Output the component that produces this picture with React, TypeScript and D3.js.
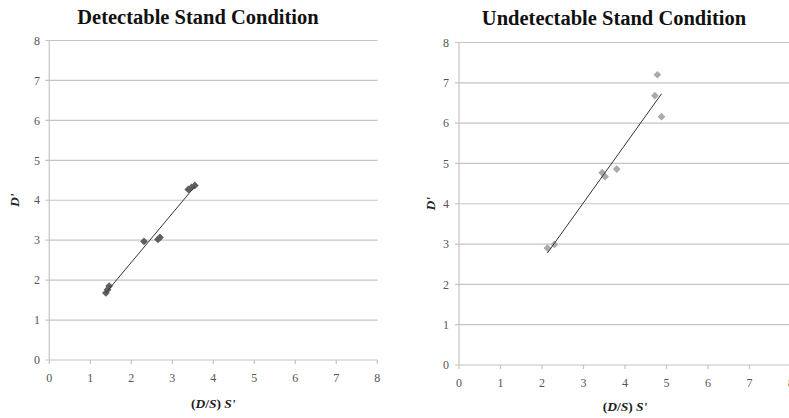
import React from "react";
import * as d3 from "d3";

const detectX = [1.38, 1.42, 1.46, 2.31, 2.65, 2.7, 3.39, 3.47, 3.55];
const detectY = [1.68, 1.76, 1.85, 2.97, 3.02, 3.07, 4.27, 4.32, 4.37];
const undetectX = [2.13, 2.3, 3.45, 3.52, 3.8, 4.72, 4.78, 4.88];
const undetectY = [2.9, 2.99, 4.77, 4.67, 4.86, 6.68, 7.2, 6.16];
const ticks = [0, 1, 2, 3, 4, 5, 6, 7, 8];
const titles = ["Detectable Stand Condition", "Undetectable Stand Condition"];

type PanelProps = {
  xs: number[];
  ys: number[];
  title: string;
  x0: number;
  x8: number;
  y0: number;
  y8: number;
  gridRight: number;
  color: string;
  titleX: number;
  titleY: number;
  yLabelX: number;
  dLabelX: number;
  xLabelY: number;
  xTitleY: number;
};

function regression(xs: number[], ys: number[]) {
  const mx = d3.mean(xs)!;
  const my = d3.mean(ys)!;
  let num = 0, den = 0;
  xs.forEach((x, i) => {
    num += (x - mx) * (ys[i] - my);
    den += (x - mx) * (x - mx);
  });
  const b = num / den;
  const a = my - b * mx;
  return (x: number) => a + b * x;
}

function Panel(p: PanelProps) {
  const x = d3.scaleLinear().domain([0, 8]).range([p.x0, p.x8]);
  const y = d3.scaleLinear().domain([0, 8]).range([p.y0, p.y8]);
  const f = regression(p.xs, p.ys);
  const [xmin, xmax] = d3.extent(p.xs) as [number, number];
  const diamond = d3.symbol().type(d3.symbolSquare).size(30)()!;
  const serif = "'Liberation Serif', 'DejaVu Serif', serif";
  return (
    <g>
      <text x={p.titleX} y={p.titleY} textAnchor="middle" fontFamily={serif} fontWeight="bold" fontSize={20.5} fill="#111">
        {p.title}
      </text>
      {ticks.map((t) => (
        <line key={"g" + t} x1={p.x0 - 4} x2={p.gridRight} y1={y(t)} y2={y(t)} stroke="#c4c4c4" strokeWidth={1.2} />
      ))}
      <line x1={p.x0} x2={p.x0} y1={y(8)} y2={y(0)} stroke="#c4c4c4" strokeWidth={1.2} />
      {ticks.map((t) => (
        <line key={"xt" + t} x1={x(t)} x2={x(t)} y1={y(0)} y2={y(0) + 4} stroke="#c4c4c4" strokeWidth={1.2} />
      ))}
      {ticks.map((t) => (
        <text key={"yl" + t} x={p.yLabelX} y={y(t)} dy="0.35em" textAnchor="end" fontFamily={serif} fontSize={12} fill="#555">
          {t}
        </text>
      ))}
      {ticks.map((t) => (
        <text key={"xl" + t} x={x(t)} y={p.xLabelY} dy="0.35em" textAnchor="middle" fontFamily={serif} fontSize={12} fill="#555">
          {t}
        </text>
      ))}
      <text x={(p.x0 + x(8)) / 2} y={p.xTitleY} dy="0.35em" textAnchor="middle" fontFamily={serif} fontWeight="bold" fontSize={13.5} fill="#222">
        (<tspan fontStyle="italic">D</tspan>/<tspan fontStyle="italic">S</tspan>) <tspan fontStyle="italic">S'</tspan>
      </text>
      <text
        transform={`translate(${p.dLabelX},${(y(0) + y(8)) / 2}) rotate(-90)`}
        dy="0.35em"
        textAnchor="middle"
        fontFamily={serif}
        fontWeight="bold"
        fontStyle="italic"
        fontSize={13.5}
        fill="#222"
      >
        D'
      </text>
      {p.xs.map((v, i) => (
        <path key={"p" + i} d={diamond} transform={`translate(${x(v)},${y(p.ys[i])}) rotate(45)`} fill={p.color} />
      ))}
      <line x1={x(xmin)} y1={y(f(xmin))} x2={x(xmax)} y2={y(f(xmax))} stroke="#333" strokeWidth={1} />
    </g>
  );
}

export default function App() {
  return (
    <div style={{ position: "absolute", left: 0, top: 0 }}>
      <svg width={789} height={418} style={{ display: "block", background: "#fff" }}>
        <Panel
          xs={detectX}
          ys={detectY}
          title={titles[0]}
          x0={49.3}
          x8={377.3}
          y0={360}
          y8={40.5}
          gridRight={377.5}
          color="#5f5f5f"
          titleX={198}
          titleY={24}
          yLabelX={40}
          dLabelX={14}
          xLabelY={378}
          xTitleY={403}
        />
        <Panel
          xs={undetectX}
          ys={undetectY}
          title={titles[1]}
          x0={459}
          x8={791}
          y0={365}
          y8={42.5}
          gridRight={789}
          color="#aaaaaa"
          titleX={614}
          titleY={25}
          yLabelX={449}
          dLabelX={430}
          xLabelY={383}
          xTitleY={406}
        />
      </svg>
    </div>
  );
}
